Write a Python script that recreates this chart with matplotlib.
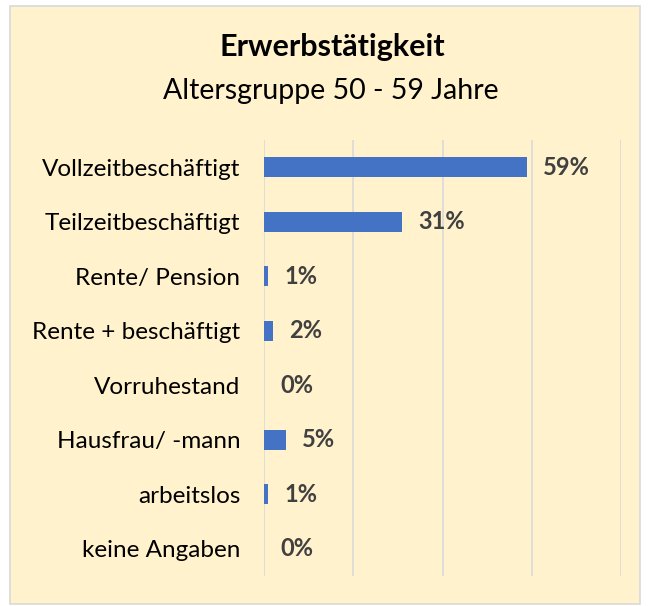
import matplotlib
matplotlib.use("Agg")
import matplotlib.pyplot as plt
from matplotlib.patches import Rectangle
from matplotlib.ticker import MultipleLocator

categories = ["Vollzeitbeschäftigt", "Teilzeitbeschäftigt", "Rente/ Pension",
              "Rente + beschäftigt", "Vorruhestand", "Hausfrau/ -mann",
              "arbeitslos", "keine Angaben"]
values = [0.59, 0.31, 0.01, 0.02, 0.00, 0.05, 0.01, 0.00]
labels = ["59%", "31%", "1%", "2%", "0%", "5%", "1%", "0%"]

plt.rcParams['font.family'] = ['Lato', 'DejaVu Sans']

fig = plt.figure(figsize=(6.51, 6.06), dpi=100)
fig.patch.set_facecolor("white")

# chart area background with light border
fig.patches.append(Rectangle((10/651, 2/606), 630/651, 598/606, transform=fig.transFigure,
                             facecolor="#FFF2CC", edgecolor="#D9D9D9", linewidth=1.2, zorder=-10))

ax = fig.add_axes([264/651, 30/606, 357/651, 436/606])
ax.set_facecolor("none")

y = list(range(len(categories)))
ax.barh(y, values, height=0.36, color="#4472C4", zorder=3)
for i in range(len(values)):
    ax.annotate(labels[i], (values[i], y[i]), xytext=(11.5, 0), textcoords="offset points",
                ha="left", va="center", fontsize=17, fontweight="bold", color="#404040")

ax.set_xlim(0, 0.8)
ax.set_ylim(len(categories) - 0.5, -0.5)
ax.xaxis.set_major_locator(MultipleLocator(0.2))
ax.grid(axis="x", color="#D9D9D9", linewidth=1.2, zorder=0)
ax.set_xticklabels([])
ax.tick_params(axis="x", length=0)
ax.set_yticks(y)
ax.set_yticklabels(categories, fontsize=17.5, color="black")
ax.tick_params(axis="y", length=0, pad=17)
for s in ax.spines.values():
    s.set_visible(False)

fig.text(332/651, 1 - 47/606, "Erwerbstätigkeit", ha="center", va="center",
         fontsize=22, fontweight="bold", color="black")
fig.text(331/651, 1 - 91/606, "Altersgruppe 50 - 59 Jahre", ha="center", va="center",
         fontsize=20.5, color="black")

fig.savefig("out.png", dpi=100, facecolor=fig.get_facecolor())
